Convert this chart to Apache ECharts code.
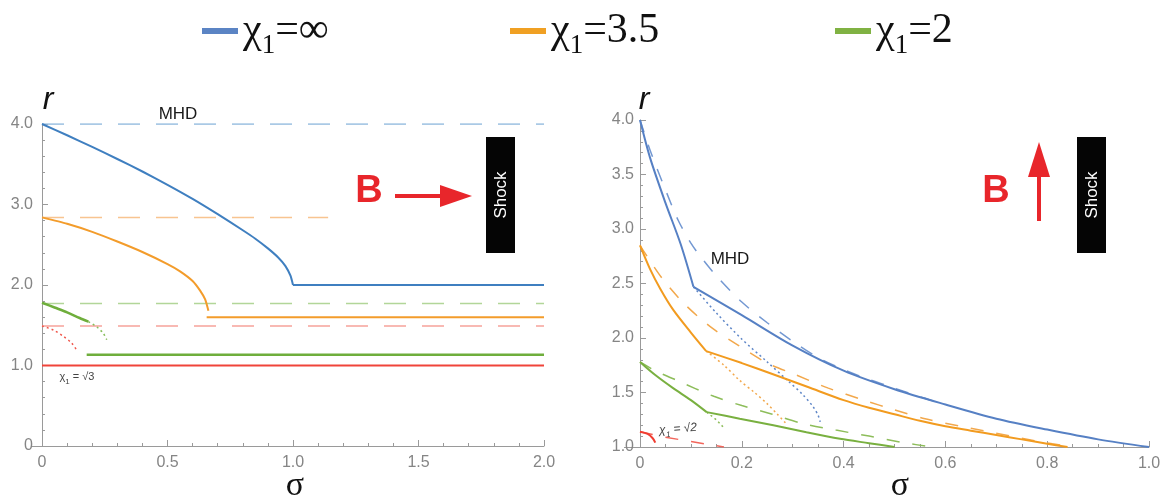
<!DOCTYPE html>
<html>
<head>
<meta charset="utf-8">
<script src="https://cdn.jsdelivr.net/npm/echarts@6/dist/echarts.min.js"></script>
<style>
  html, body { margin: 0; padding: 0; background: #fff; }
  #chart { width: 1160px; height: 500px; }
</style>
</head>
<body>
<div id="chart"></div>
<script>
// legend names
const legendNames = ['χ1=∞', 'χ1=3.5', 'χ1=2'];

// ---- left panel: B parallel to shock normal, sigma 0..2 ----
const leftInfMhd = [[0, 4.0], [2.0, 4.0]];
const leftInfCurve = [[0, 4.0], [0.1, 3.86], [0.2, 3.715], [0.3, 3.565], [0.4, 3.41], [0.5, 3.245], [0.6, 3.07],
  [0.7, 2.88], [0.8, 2.68], [0.85, 2.575], [0.9, 2.455], [0.94, 2.345], [0.97, 2.235], [0.99, 2.115], [1.0, 2.0]];
const leftInfFlat = [[1.0, 2.0], [2.0, 2.0]];

const left35Dash = [[0, 2.84], [1.14, 2.84]];
const left35Curve = [[0, 2.84], [0.1, 2.76], [0.2, 2.66], [0.3, 2.54], [0.4, 2.41], [0.5, 2.26], [0.55, 2.17],
  [0.6, 2.05], [0.63, 1.93], [0.65, 1.82], [0.663, 1.68]];
const left35Flat = [[0.656, 1.60], [2.0, 1.60]];

const left2Dash = [[0, 1.77], [2.0, 1.77]];
const left2Curve = [[0, 1.78], [0.05, 1.72], [0.1, 1.66], [0.15, 1.59], [0.185, 1.545]];
const left2Dot = [[0.185, 1.545], [0.218, 1.48], [0.244, 1.40], [0.258, 1.32]];
const left2Flat = [[0.178, 1.135], [2.0, 1.135]];

const leftSqrt3Dash = [[0, 1.49], [2.0, 1.49]];
const leftSqrt3Dot = [[0, 1.49], [0.046, 1.44], [0.086, 1.36], [0.118, 1.28], [0.138, 1.19]];
const leftSqrt3Flat = [[0, 1.0], [2.0, 1.0]];

// ---- right panel: B perpendicular, sigma 0..1 ----
const rightInfMhd = [[0, 4.0], [0.02, 3.72], [0.05, 3.36], [0.075, 3.08], [0.1, 2.87], [0.12, 2.74], [0.15, 2.57],
  [0.2, 2.33], [0.25, 2.14], [0.3, 1.97], [0.35, 1.82], [0.4, 1.71], [0.45, 1.62], [0.5, 1.54], [0.55, 1.46], [0.6, 1.39]];
const rightInfA = [[0, 4.0], [0.02, 3.65], [0.05, 3.24], [0.08, 2.86], [0.105, 2.47]];
const rightInfB = [[0.105, 2.47], [0.2, 2.21], [0.3, 1.93], [0.4, 1.70], [0.5, 1.53], [0.6, 1.39], [0.7, 1.26],
  [0.8, 1.16], [0.9, 1.07], [1.0, 1.0]];
const rightInfDot = [[0.105, 2.47], [0.15, 2.23], [0.2, 1.99], [0.25, 1.78], [0.29, 1.61], [0.32, 1.48],
  [0.34, 1.37], [0.35, 1.29], [0.354, 1.23]];

const right35Dash = [[0, 2.85], [0.043, 2.55], [0.09, 2.30], [0.142, 2.09], [0.194, 1.93], [0.25, 1.77], [0.302, 1.67],
  [0.37, 1.54], [0.44, 1.43], [0.5, 1.34], [0.56, 1.26], [0.63, 1.19], [0.69, 1.135], [0.75, 1.08], [0.81, 1.03], [0.85, 1.0]];
const right35A = [[0, 2.85], [0.02, 2.63], [0.04, 2.45], [0.065, 2.26], [0.1, 2.05], [0.13, 1.88]];
const right35B = [[0.13, 1.88], [0.2, 1.77], [0.26, 1.67], [0.33, 1.55], [0.4, 1.43], [0.45, 1.36], [0.5, 1.30],
  [0.55, 1.24], [0.6, 1.19], [0.65, 1.15], [0.7, 1.11], [0.75, 1.07], [0.8, 1.03], [0.84, 1.0]];
const right35Dot = [[0.13, 1.88], [0.165, 1.75], [0.196, 1.61], [0.225, 1.50], [0.249, 1.40], [0.27, 1.30], [0.288, 1.21]];

const right2Dash = [[0, 1.78], [0.03, 1.70], [0.073, 1.61], [0.145, 1.465], [0.2, 1.38], [0.26, 1.30], [0.32, 1.215],
  [0.385, 1.155], [0.45, 1.10], [0.517, 1.04], [0.575, 1.0]];
const right2A = [[0, 1.78], [0.03, 1.66], [0.065, 1.54], [0.1, 1.43], [0.131, 1.32]];
const right2B = [[0.131, 1.32], [0.196, 1.26], [0.262, 1.20], [0.327, 1.135], [0.393, 1.075], [0.45, 1.035], [0.5, 1.0]];
const right2Dot = [[0.131, 1.32], [0.15, 1.25], [0.164, 1.18]];

const rightSqrt2Dash = [[0, 1.14], [0.05, 1.09], [0.1, 1.05], [0.165, 1.0]];
const rightSqrt2 = [[0, 1.14], [0.015, 1.12], [0.025, 1.08], [0.03, 1.04]];

const chart = echarts.init(document.getElementById('chart'));

function ln(ax, data, color, opts) {
  opts = opts || {};
  return {
    type: 'line',
    name: opts.name,
    xAxisIndex: ax,
    yAxisIndex: ax,
    data: data,
    showSymbol: false,
    silent: true,
    smooth: opts.smooth || false,
    z: opts.z || 2,
    itemStyle: { color: color },
    lineStyle: { color: color, width: opts.width || 2, type: opts.type || 'solid' }
  };
}

const dashL = [22, 16];
const dashR = [13, 13];
const dot = [2, 3];

function fmt(v) { return v === 0 ? '0' : v.toFixed(1); }

const axisCommon = {
  type: 'value',
  axisLine: { show: true, lineStyle: { color: '#9a9a9a', width: 1 } },
  axisTick: { show: true, inside: true, length: 6, lineStyle: { color: '#9a9a9a' } },
  minorTick: { show: true, length: 3, lineStyle: { color: '#9a9a9a' } },
  splitLine: { show: false },
  axisLabel: { color: '#858585', fontSize: 16, fontFamily: 'Liberation Sans', formatter: fmt }
};

function legendFor(i, left, color) {
  return {
    left: left, top: 5,
    icon: 'rect', itemWidth: 36, itemHeight: 6,
    selectedMode: false,
    data: [{ name: legendNames[i], itemStyle: { color: color } }],
    formatter: function (n) { return '{t|χ}{s|1}{t|=' + n.split('=')[1] + '}'; },
    textStyle: {
      rich: {
        t: { fontFamily: 'Liberation Serif', fontSize: 42, color: '#111', lineHeight: 56, verticalAlign: 'middle' },
        s: { fontFamily: 'Liberation Serif', fontSize: 27, color: '#111', lineHeight: 56, verticalAlign: 'bottom' }
      }
    }
  };
}

const option = {
  animation: false,
  backgroundColor: '#fff',
  legend: [legendFor(0, 197, '#5b84c4'), legendFor(1, 505, '#f0a023'), legendFor(2, 830, '#80b243')],
  grid: [
    { left: 42, top: 124, width: 502, height: 322, outerBoundsMode: 'none' },
    { left: 640, top: 120, width: 509, height: 327, outerBoundsMode: 'none' }
  ],
  xAxis: [
    Object.assign({}, axisCommon, { gridIndex: 0, min: 0, max: 2, interval: 0.5,
      minorTick: Object.assign({}, axisCommon.minorTick, { splitNumber: 5 }),
      axisLabel: Object.assign({}, axisCommon.axisLabel, { margin: 9 }) }),
    Object.assign({}, axisCommon, { gridIndex: 1, min: 0, max: 1, interval: 0.2,
      minorTick: Object.assign({}, axisCommon.minorTick, { splitNumber: 4 }),
      axisLabel: Object.assign({}, axisCommon.axisLabel, { margin: 9 }) })
  ],
  yAxis: [
    Object.assign({}, axisCommon, { gridIndex: 0, min: 0, max: 4, interval: 1,
      minorTick: Object.assign({}, axisCommon.minorTick, { splitNumber: 5 }),
      axisLabel: Object.assign({}, axisCommon.axisLabel, { margin: 9 }) }),
    Object.assign({}, axisCommon, { gridIndex: 1, min: 1, max: 4, interval: 0.5,
      minorTick: Object.assign({}, axisCommon.minorTick, { splitNumber: 5 }),
      axisLabel: Object.assign({}, axisCommon.axisLabel, { margin: 6, formatter: function (v) { return v.toFixed(1); } }) })
  ],
  series: [
    // left panel
    ln(0, leftInfMhd, '#8fb8dd', { type: dashL, width: 1.5 }),
    ln(0, left35Dash, '#f8c490', { type: dashL, width: 1.5 }),
    ln(0, left2Dash, '#b2d699', { type: dashL, width: 1.5 }),
    ln(0, leftSqrt3Dash, '#f6a29b', { type: dashL, width: 1.5 }),
    ln(0, leftInfCurve, '#3f7fc0', { name: legendNames[0], smooth: 0.2, z: 3 }),
    ln(0, leftInfFlat, '#3f7fc0', { z: 3 }),
    ln(0, left35Curve, '#f39c2b', { name: legendNames[1], smooth: 0.2, z: 3 }),
    ln(0, left35Flat, '#f39c2b', { z: 3 }),
    ln(0, left2Curve, '#6fae3c', { name: legendNames[2], smooth: 0.3, z: 3, width: 2.5 }),
    ln(0, left2Dot, '#86bd5a', { type: dot, smooth: 0.3, width: 1.5 }),
    ln(0, left2Flat, '#6fae3c', { z: 3, width: 2.5 }),
    ln(0, leftSqrt3Dot, '#f0574c', { type: dot, smooth: 0.3, width: 1.5 }),
    ln(0, leftSqrt3Flat, '#f0443a', { z: 3 }),
    // right panel
    ln(1, rightInfMhd, '#7398d2', { type: dashR, smooth: 0.3, width: 1.5 }),
    ln(1, right35Dash, '#f2a84c', { type: dashR, smooth: 0.3, width: 1.5 }),
    ln(1, right2Dash, '#8dbd5a', { type: dashR, smooth: 0.3, width: 1.5 }),
    ln(1, rightSqrt2Dash, '#f2665c', { type: dashR, width: 1.5 }),
    ln(1, rightInfA, '#5680c4', { smooth: 0.3, z: 3 }),
    ln(1, rightInfB, '#5680c4', { smooth: 0.3, z: 3 }),
    ln(1, rightInfDot, '#5f87c8', { type: dot, smooth: 0.3, width: 1.5 }),
    ln(1, right35A, '#f29b1f', { smooth: 0.3, z: 3 }),
    ln(1, right35B, '#f29b1f', { smooth: 0.3, z: 3 }),
    ln(1, right35Dot, '#f2a84c', { type: dot, smooth: 0.3, width: 1.5 }),
    ln(1, right2A, '#79b040', { smooth: 0.3, z: 3 }),
    ln(1, right2B, '#79b040', { smooth: 0.3, z: 3 }),
    ln(1, right2Dot, '#8dbd5a', { type: dot, width: 1.5 }),
    ln(1, rightSqrt2, '#f03c30', { smooth: 0.3, z: 3 })
  ],
  graphic: [
    // x axes reach a little past the r axes
    { type: 'line', shape: { x1: 32, y1: 446.5, x2: 42, y2: 446.5 }, style: { stroke: '#9a9a9a', lineWidth: 1 } },
    { type: 'line', shape: { x1: 624, y1: 447.5, x2: 640, y2: 447.5 }, style: { stroke: '#9a9a9a', lineWidth: 1 } },
    // axis names
    { type: 'text', x: 48, y: 100, style: { text: 'r', font: 'italic 32px Liberation Sans', fill: '#111', align: 'center', verticalAlign: 'middle' } },
    { type: 'text', x: 644, y: 100, style: { text: 'r', font: 'italic 32px Liberation Sans', fill: '#111', align: 'center', verticalAlign: 'middle' } },
    { type: 'text', x: 295, y: 486, style: { text: 'σ', font: '34px Liberation Serif', fill: '#111', align: 'center', verticalAlign: 'middle' } },
    { type: 'text', x: 900, y: 486, style: { text: 'σ', font: '34px Liberation Serif', fill: '#111', align: 'center', verticalAlign: 'middle' } },
    // MHD labels
    { type: 'text', x: 178, y: 114, style: { text: 'MHD', font: '17px Liberation Sans', fill: '#1a1a1a', align: 'center', verticalAlign: 'middle' } },
    { type: 'text', x: 730, y: 259, style: { text: 'MHD', font: '17px Liberation Sans', fill: '#1a1a1a', align: 'center', verticalAlign: 'middle' } },
    // chi labels
    { type: 'text', x: 77, y: 377, style: {
      text: '{a|χ}{b|1}{a| = √3}', align: 'center', verticalAlign: 'middle',
      rich: { a: { font: '11px Liberation Sans', fill: '#444', lineHeight: 18, verticalAlign: 'middle' },
              b: { font: '8px Liberation Sans', fill: '#444', lineHeight: 18, verticalAlign: 'bottom' } } } },
    { type: 'text', x: 678, y: 429, rotation: 0.08, style: {
      text: '{a|χ}{b|1}{a| = √2}', align: 'center', verticalAlign: 'middle',
      rich: { a: { font: 'italic 12px Liberation Sans', fill: '#444', lineHeight: 18, verticalAlign: 'middle' },
              b: { font: 'italic 8px Liberation Sans', fill: '#444', lineHeight: 18, verticalAlign: 'bottom' } } } },
    // left: B arrow and shock
    { type: 'text', x: 369, y: 192, style: { text: 'B', font: 'bold 38px Liberation Sans', fill: '#e8262b', align: 'center', verticalAlign: 'middle' } },
    { type: 'line', shape: { x1: 395, y1: 196, x2: 444, y2: 196 }, style: { stroke: '#e8262b', lineWidth: 4 } },
    { type: 'polygon', shape: { points: [[440, 185], [472, 196], [440, 207]] }, style: { fill: '#e8262b' } },
    { type: 'rect', shape: { x: 486, y: 137, width: 29, height: 116 }, style: { fill: '#050505' } },
    { type: 'text', x: 501, y: 195, rotation: Math.PI / 2, style: { text: 'Shock', font: '17px Liberation Sans', fill: '#fff', align: 'center', verticalAlign: 'middle' } },
    // right: B arrow and shock
    { type: 'text', x: 996, y: 192, style: { text: 'B', font: 'bold 38px Liberation Sans', fill: '#e8262b', align: 'center', verticalAlign: 'middle' } },
    { type: 'line', shape: { x1: 1039, y1: 221, x2: 1039, y2: 172 }, style: { stroke: '#e8262b', lineWidth: 4 } },
    { type: 'polygon', shape: { points: [[1028, 177], [1039, 142], [1050, 177]] }, style: { fill: '#e8262b' } },
    { type: 'rect', shape: { x: 1077, y: 137, width: 29, height: 116 }, style: { fill: '#050505' } },
    { type: 'text', x: 1092, y: 195, rotation: Math.PI / 2, style: { text: 'Shock', font: '17px Liberation Sans', fill: '#fff', align: 'center', verticalAlign: 'middle' } }
  ]
};

chart.setOption(option);
</script>
</body>
</html>
